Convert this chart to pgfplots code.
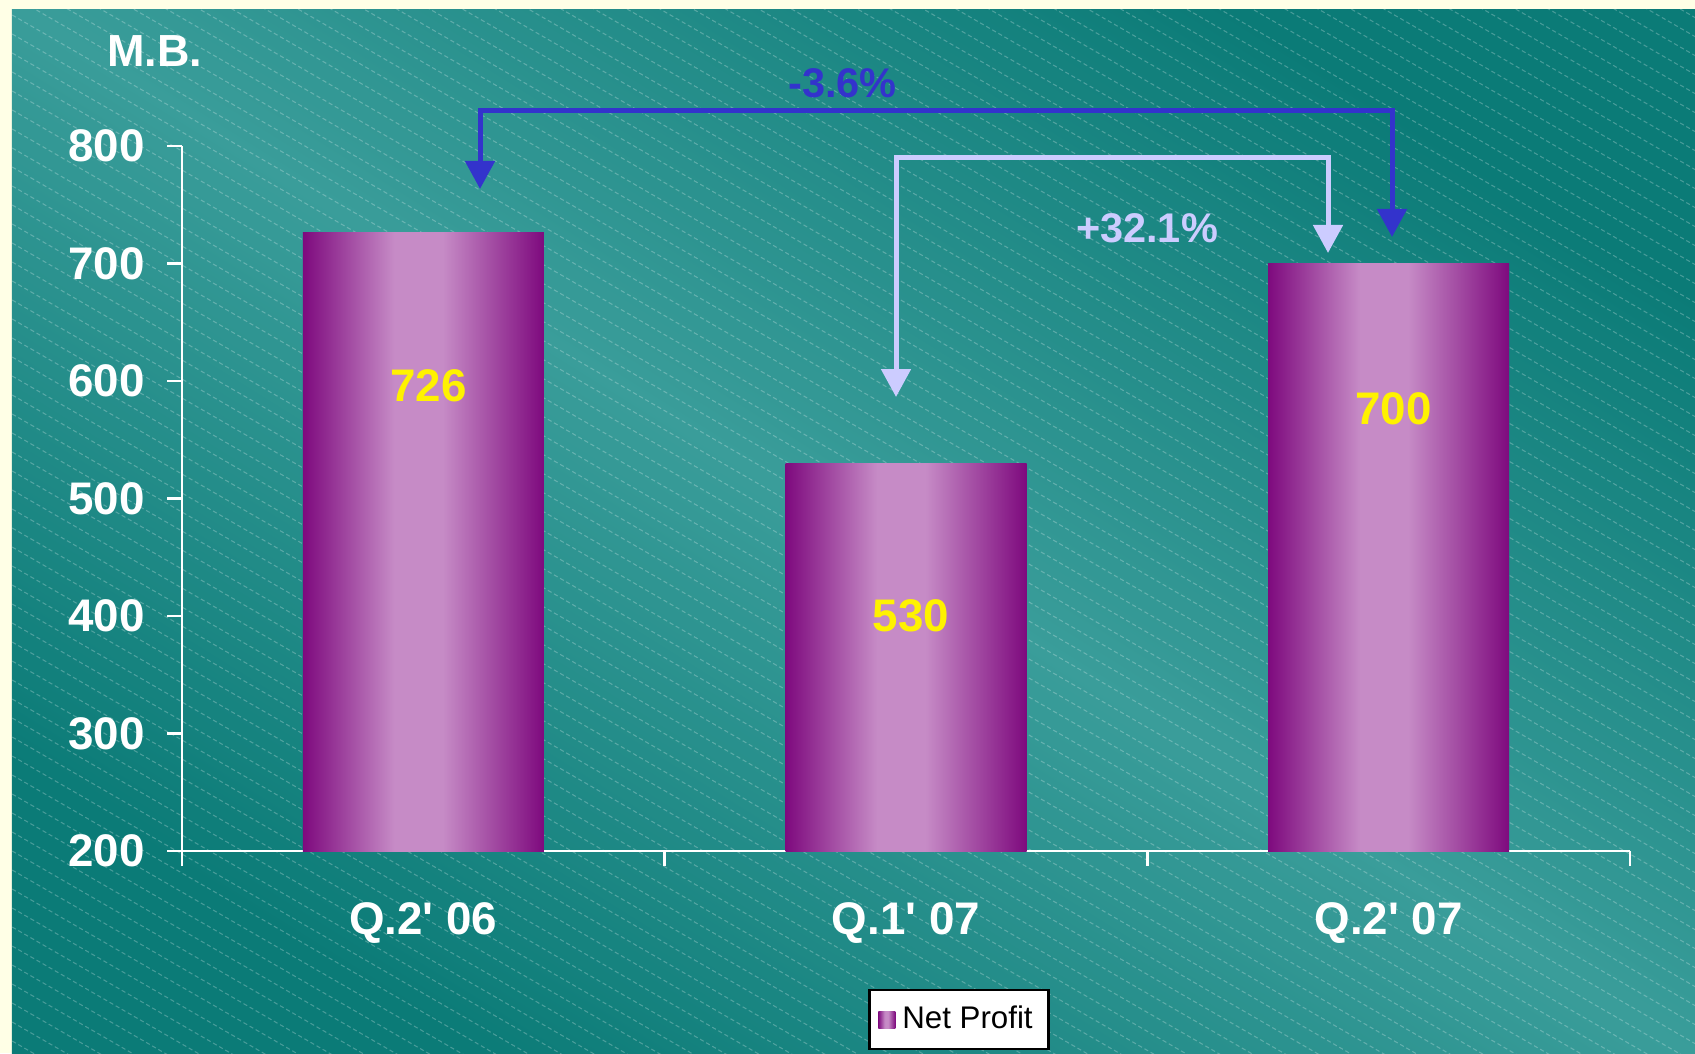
\documentclass[border=0pt]{standalone}
\usepackage{fontspec}
\setmainfont{Liberation Sans}
\usepackage{pgfplots}
\pgfplotsset{compat=1.18}
\usetikzlibrary{arrows.meta}
\definecolor{cream}{HTML}{FFFFE6}
\definecolor{tealdark}{HTML}{0B7B77}
\definecolor{teallight}{HTML}{3A9D9A}
\definecolor{bpurp}{HTML}{7E0A7E}
\definecolor{blight}{HTML}{C68BC6}
\definecolor{arrblue}{HTML}{3333CC}
\definecolor{arrlight}{HTML}{CCCCFF}
\pgfdeclarehorizontalshading{barshade}{100bp}{color(0bp)=(bpurp); color(25bp)=(bpurp); color(44bp)=(blight); color(54bp)=(blight); color(75bp)=(bpurp); color(100bp)=(bpurp)}
\pgfplotsset{
  mybar/.style={ybar, bar width=2.41cm, bar shift=0pt, draw=none, shade, shading=barshade,
    nodes near coords,
    every node near coord/.append style={anchor=center, yshift=#1, xshift=0.05cm, text=yellow,
      font=\bfseries\fontsize{13}{15}\selectfont}},
  mybar/.default=-1.53cm,
}
\begin{document}
\begin{tikzpicture}[x=1cm,y=1cm]
\useasboundingbox (0,0) rectangle (16.95,10.53);
\fill[cream] (0,0) rectangle (16.95,10.53);
\shade[top color=tealdark, bottom color=tealdark, middle color=teallight, shading angle=-32] (0.12,0) rectangle (16.95,10.43);
\begin{scope}
\clip (0.12,0) rectangle (16.95,10.43);
\foreach \c in {0,0.19,...,20.5} \draw[white, opacity=0.25, line width=0.3pt, dash pattern=on 1.2pt off 0.8pt] (0,\c) -- (16.95,\c-9.786);
\end{scope}
\begin{axis}[
  at={(1.82cm,2.02cm)}, anchor=south west, scale only axis, width=14.48cm, height=7.05cm,
  xmin=-0.5, xmax=2.5, ymin=200, ymax=800,
  axis x line*=bottom, axis y line*=left,
  axis line style={white, line width=0.7pt, -},
  xtick={-0.5,0.5,1.5,2.5}, x tick label as interval,
  xticklabels={Q.2\textquotesingle\ 06, Q.1\textquotesingle\ 07, Q.2\textquotesingle\ 07},
  ytick={200,300,...,800},
  tick align=outside, major tick length=0.15cm,
  tick style={white, line width=0.7pt},
  ticklabel style={white, font=\bfseries\fontsize{13}{15}\selectfont},
  yticklabel style={xshift=-0.1cm},
  xticklabel style={yshift=-0.24cm},
  /pgf/number format/assume math mode=true,
  legend style={at={(0.5366,-0.239)}, anchor=center, draw=black, line width=0.6pt, fill=white,
    font=\fontsize{8.9}{10}\selectfont, inner xsep=2.5pt, inner ysep=2.5pt},
  legend image code/.code={\path[shade, shading=barshade] (0cm,-0.085cm) rectangle (0.17cm,0.085cm);},
]
\addplot[mybar] coordinates {(0,726)};
\addlegendentry{Net Profit}
\addplot[mybar, forget plot] coordinates {(1,530)};
\addplot[mybar=-1.45cm, forget plot] coordinates {(2,700)};
\end{axis}
\draw[arrblue, line width=0.05cm, line join=miter, {Triangle[width=0.29cm,length=0.28cm]}-{Triangle[width=0.29cm,length=0.28cm]}] (4.80,8.64) -- (4.80,9.425) -- (13.92,9.425) -- (13.92,8.16);
\draw[arrlight, line width=0.05cm, line join=miter, {Triangle[width=0.29cm,length=0.28cm]}-{Triangle[width=0.29cm,length=0.28cm]}] (8.96,6.56) -- (8.96,8.95) -- (13.28,8.95) -- (13.28,8.00);
\node[anchor=base, text=arrblue, font=\bfseries\fontsize{11.8}{14}\selectfont, inner sep=0pt] at (8.425,9.55) {-3.6\%};
\node[anchor=base, text=arrlight, font=\bfseries\fontsize{11.8}{14}\selectfont, inner sep=0pt] at (11.47,8.10) {+32.1\%};
\node[anchor=base, text=white, font=\bfseries\fontsize{12.8}{15}\selectfont, inner sep=0pt] at (1.55,9.86) {M.B.};
\end{tikzpicture}
\end{document}
